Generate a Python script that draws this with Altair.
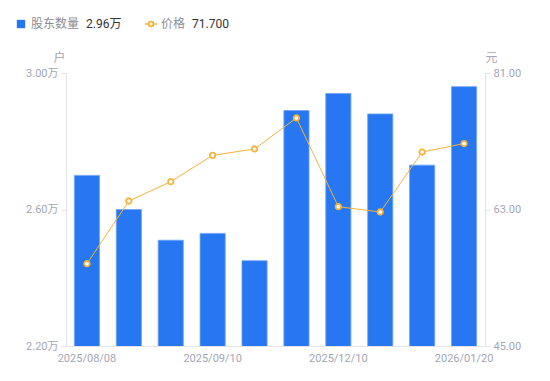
import altair as alt
import pandas as pd

dates = ["2025/08/08", "2025/08/20", "2025/08/31", "2025/09/10", "2025/09/30",
         "2025/10/31", "2025/12/10", "2025/12/31", "2026/01/10", "2026/01/20"]
holders_wan = [2.70, 2.60, 2.51, 2.53, 2.45, 2.89, 2.94, 2.88, 2.73, 2.96]
price = [55.85, 64.12, 66.67, 70.14, 70.98, 75.07, 63.37, 62.67, 70.58, 71.70]
shown_labels = ["2025/08/08", "2025/09/10", "2025/12/10", "2026/01/20"]
left_ticks = [2.20, 2.60, 3.00]
right_ticks = [45.00, 63.00, 81.00]

BLUE = "#2777F2"
ORANGE = "#F7B23B"
GRAY = "#A3A6B4"
AXIS = "#E3E4E8"
FONT = "Roboto, Noto Sans CJK SC"

df = pd.DataFrame({"date": dates, "holders": holders_wan, "price": price})

label_list = "[" + ",".join(f"'{s}'" for s in shown_labels) + "]"

x = alt.X("date:N", sort=dates, title=None,
          scale=alt.Scale(paddingInner=0.4, paddingOuter=0.2),
          axis=alt.Axis(labelAngle=0, labelColor=GRAY, labelFontSize=11, labelFont=FONT,
                        ticks=False, domainColor=AXIS, labelPadding=6,
                        labelExpr=f"indexof({label_list}, datum.value) >= 0 ? datum.value : ''"))

bars = alt.Chart(df).mark_bar(color=BLUE, stroke="#6FA3F5", strokeWidth=0.8, clip=True).encode(
    x=x,
    y=alt.Y("holders:Q", scale=alt.Scale(domain=[2.2, 3.0], zero=False, nice=False),
            axis=alt.Axis(values=left_ticks, labelExpr="format(datum.value, '.2f') + '万'",
                          labelColor=GRAY, labelFontSize=11, labelFont=FONT, grid=False,
                          domainColor=AXIS, tickColor=AXIS, tickSize=5, labelPadding=3,
                          title="户", titleAngle=0, titleColor=GRAY, titleFontWeight="normal",
                          titleFontSize=12, titleFont=FONT, titleX=-7, titleY=-16,
                          titleAlign="center", titleBaseline="middle"))
)

line = alt.Chart(df).mark_line(
    color=ORANGE, strokeWidth=1,
    point=alt.OverlayMarkDef(shape="circle", filled=True, fill="white", stroke=ORANGE,
                             strokeWidth=1.8, size=30, opacity=1)
).encode(
    x=x,
    y=alt.Y("price:Q", scale=alt.Scale(domain=[45, 81], zero=False, nice=False),
            axis=alt.Axis(orient="right", values=right_ticks, format=".2f",
                          labelColor=GRAY, labelFontSize=11, labelFont=FONT, grid=False,
                          domainColor=AXIS, tickColor=AXIS, tickSize=5, labelPadding=3,
                          title="元", titleAngle=0, titleColor=GRAY, titleFontWeight="normal",
                          titleFontSize=12, titleFont=FONT, titleX=6, titleY=-16,
                          titleAlign="center", titleBaseline="middle"))
)

# legend
leg_df = pd.DataFrame({"a": [0]})
LY = -49
sq = alt.Chart(leg_df).mark_square(color=BLUE, size=70, opacity=1).encode(
    x=alt.value(-45), y=alt.value(LY))
t1 = alt.Chart(leg_df).mark_text(text="股东数量", align="left", baseline="middle",
                                 color="#8A8D99", fontSize=12, font=FONT).encode(
    x=alt.value(-35), y=alt.value(LY))
t2 = alt.Chart(leg_df).mark_text(text=f"{holders_wan[-1]:.2f}万", align="left", baseline="middle",
                                 color="#333333", fontSize=12, font=FONT).encode(
    x=alt.value(20), y=alt.value(LY))
lr = alt.Chart(leg_df).mark_rule(color=ORANGE, strokeWidth=1.5).encode(
    x=alt.value(79), x2=alt.value(91), y=alt.value(LY))
lp = alt.Chart(leg_df).mark_point(shape="circle", filled=True, fill="white", stroke=ORANGE,
                                  strokeWidth=1.8, size=22, opacity=1).encode(
    x=alt.value(85), y=alt.value(LY))
t3 = alt.Chart(leg_df).mark_text(text="价格", align="left", baseline="middle",
                                 color="#8A8D99", fontSize=12, font=FONT).encode(
    x=alt.value(95), y=alt.value(LY))
t4 = alt.Chart(leg_df).mark_text(text=f"{price[-1]:.3f}", align="left", baseline="middle",
                                 color="#333333", fontSize=12, font=FONT).encode(
    x=alt.value(126), y=alt.value(LY))

chart = alt.layer(bars, line, sq, t1, t2, lr, lp, t3, t4).resolve_scale(
    y="independent"
).properties(
    width=419, height=273,
    padding={"left": 58, "top": 65, "right": 57, "bottom": 27},
    autosize=alt.AutoSizeParams(type="none"),
).configure_view(stroke=None)

chart.save("out.html", embed_options={"renderer": "svg", "actions": False})
